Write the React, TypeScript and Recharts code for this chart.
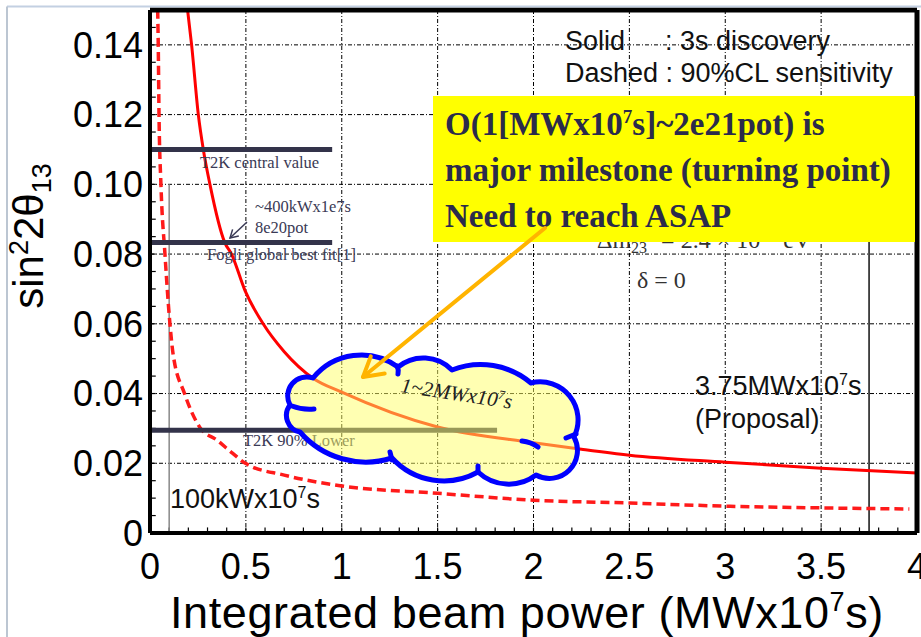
import React from 'react';
import { ComposedChart, Line, XAxis, YAxis, CartesianGrid, ReferenceLine } from 'recharts';

// 3 sigma discovery (solid)
const solidX = [0.196, 0.217, 0.252, 0.278, 0.3125, 0.39, 0.425, 0.495, 0.59, 0.7, 0.85, 1.0, 1.5, 2.0, 2.25, 2.5, 3.0, 3.5, 4.0];
const solidY = [0.15, 0.14, 0.12, 0.11, 0.1, 0.0833, 0.08, 0.0696, 0.06, 0.052, 0.0444, 0.0404, 0.0304, 0.0259, 0.024, 0.0223, 0.0203, 0.0186, 0.0172];

// 90% CL sensitivity (dashed)
const dashedX = [0.04, 0.043, 0.047, 0.057, 0.078, 0.104, 0.12, 0.18, 0.26, 0.35, 0.43, 0.5, 0.7, 1.0, 1.5, 2.0, 2.5, 3.0, 3.5, 3.96];
const dashedY = [0.15, 0.14, 0.12, 0.1, 0.08, 0.06, 0.0515, 0.04, 0.0303, 0.0266, 0.0229, 0.0199, 0.0166, 0.0135, 0.0114, 0.0094, 0.0086, 0.0077, 0.0072, 0.0069];

// reference values
const refNames = ['T2K central value', 'Fogli global best fit[1]', 'T2K 90% Lower'];
const refValues = [0.11, 0.0833, 0.0295];
const refEnds = [0.95, 0.95, 1.81];
const powerMarks = [0.1, 3.75];
const powerMarkTops = [0.1, 0.09];

const xTicks = [0, 0.5, 1, 1.5, 2, 2.5, 3, 3.5, 4];
const yTicks = [0, 0.02, 0.04, 0.06, 0.08, 0.1, 0.12, 0.14];
const xMinor = Array.from({ length: 41 }, (_, i) => +(i * 0.1).toFixed(2));
const yMinor = Array.from({ length: 31 }, (_, i) => +(i * 0.005).toFixed(3));

const SANS = 'Liberation Sans, Arial, sans-serif';
const SERIF = 'Liberation Serif, Times New Roman, serif';

export default function App() {
  const solidData = solidX.map((x, i) => ({ x, y: solidY[i] }));
  const dashedData = dashedX.map((x, i) => ({ x, y: dashedY[i] }));
  const tipX = 363, tipY = 377;
  return (
    <div style={{ position: 'absolute', left: 0, top: 0, width: 921, height: 637, background: '#fff', overflow: 'hidden' }}>
      <ComposedChart width={921} height={637} margin={{ top: 10, right: 4, bottom: 0, left: 0 }}>
        <CartesianGrid stroke="#000" strokeDasharray="4 2 1 2" strokeWidth={1} />
        <XAxis
          type="number"
          dataKey="x"
          domain={[0, 4]}
          ticks={xTicks}
          interval={0}
          allowDataOverflow
          height={104}
          tickLine={false}
          tickSize={0}
          tickMargin={20}
          axisLine={{ stroke: '#000', strokeWidth: 4 }}
          tick={{ fontSize: 36, fontFamily: SANS, fill: '#000' }}
          tickFormatter={(v: number) => String(v)}
        />
        <YAxis
          type="number"
          domain={[0, 0.15]}
          ticks={yTicks}
          interval={0}
          allowDataOverflow
          width={150}
          tickLine={false}
          tickSize={0}
          tickMargin={7}
          axisLine={{ stroke: '#000', strokeWidth: 4 }}
          tick={{ fontSize: 36, fontFamily: SANS, fill: '#000' }}
          tickFormatter={(v: number) => (v === 0 ? '0' : v.toFixed(2))}
        />
        {xMinor.map((v) => (
          <ReferenceLine key={'xm' + v} segment={[{ x: v, y: 0 }, { x: v, y: 0.0016 }]} stroke="#000" strokeWidth={1.2} ifOverflow="visible" />
        ))}
        {yMinor.map((v) => (
          <ReferenceLine key={'ym' + v} segment={[{ x: 0, y: v }, { x: 0.03, y: v }]} stroke="#000" strokeWidth={1.2} ifOverflow="visible" />
        ))}
        {powerMarks.map((v, i) => (
          <ReferenceLine key={'pm' + v} segment={[{ x: v, y: 0 }, { x: v, y: powerMarkTops[i] }]} stroke={i === 0 ? '#888' : '#111'} strokeWidth={1.5} ifOverflow="visible" />
        ))}
        <Line data={dashedData} dataKey="y" type="monotone" stroke="#ff1a1a" strokeWidth={3.5} strokeDasharray="9 5" dot={false} isAnimationActive={false} />
        <Line data={solidData} dataKey="y" type="monotone" stroke="#ff0000" strokeWidth={3} dot={false} isAnimationActive={false} />
        {refValues.map((v, i) => (
          <ReferenceLine key={refNames[i]} segment={[{ x: 0, y: v }, { x: refEnds[i], y: v }]} stroke="#33334a" strokeWidth={5} ifOverflow="visible" />
        ))}
        <ReferenceLine y={0.15} stroke="#000" strokeWidth={5} ifOverflow="visible" />
        <ReferenceLine x={4} stroke="#000" strokeWidth={5} ifOverflow="visible" />
      </ComposedChart>

      <svg width={921} height={637} style={{ position: 'absolute', left: 0, top: 0, pointerEvents: 'none' }}>
        {/* slide border */}
        <line x1={7} y1={6.5} x2={921} y2={6.5} stroke="#c3d0e2" strokeWidth={2} />
        <line x1={7} y1={6.5} x2={7} y2={637} stroke="#bcc6d2" strokeWidth={2} />

        {/* axis titles */}
        <text x={43} y={236} transform="rotate(-90 43 236)" textAnchor="middle" fontFamily={SANS} fontSize={42} fill="#000">
          sin<tspan dy={-15} fontSize={27}>2</tspan><tspan dy={15}>2θ</tspan><tspan dy={8} fontSize={27}>13</tspan>
        </text>
        <text x={170} y={628} fontFamily={SANS} fontSize={45} letterSpacing={0.6} fill="#000">
          Integrated beam power (MWx10<tspan dy={-17} fontSize={27}>7</tspan><tspan dy={17}>s)</tspan>
        </text>

        {/* legend text */}
        <text x={565} y={50} fontFamily={SANS} fontSize={27} fill="#111">Solid</text>
        <text x={665} y={50} fontFamily={SANS} fontSize={27} fill="#111">: 3s discovery</text>
        <text x={565} y={82} fontFamily={SANS} fontSize={27} fill="#111">Dashed : 90%CL sensitivity</text>

        {/* text partly hidden under the yellow box */}
        <text x={597} y={248} fontFamily={SERIF} fontSize={24} fill="#333">
          Δm<tspan dy={5} fontSize={16}>23</tspan><tspan dy={-14} fontSize={16}>2</tspan><tspan dy={9}> = 2.4 × 10</tspan><tspan dy={-9} fontSize={16}>−3</tspan><tspan dy={9}> eV</tspan><tspan dy={-9} fontSize={16}>2</tspan>
        </text>
        <text x={637} y={288} fontFamily={SERIF} fontSize={24} fill="#333">δ = 0</text>

        {/* yellow box */}
        <rect x={433} y={96} width={482} height={146} fill="#ffff00" />
        <g fontFamily={SERIF} fontWeight="bold" fontSize={33} fill="#2b2b4b">
          <text x={445} y={135}>
            O(1[MWx10<tspan dy={-12} fontSize={19}>7</tspan><tspan dy={12}>s]~2e21pot) is</tspan>
          </text>
          <text x={445} y={181}>major milestone (turning point)</text>
          <text x={445} y={227}>Need to reach ASAP</text>
        </g>

        {/* small serif annotations */}
        <g fontFamily={SERIF} fontSize={16.5} fill="#3a3a55">
          <text x={200} y={168}>{refNames[0]}</text>
          <text x={255} y={212}>~400kWx1e7s</text>
          <text x={255} y={233}>8e20pot</text>
          <text x={207} y={260}>{refNames[1]}</text>
          <text x={243} y={446}>{refNames[2]}</text>
        </g>
        <g stroke="#3a3a55" strokeWidth={1.5} fill="none">
          <line x1={247} y1={222} x2={230} y2={238} />
          <polyline points="232.6,229.4 230,238 238.8,235.9" />
        </g>

        {/* sans annotations */}
        <text x={170} y={508} fontFamily={SANS} fontSize={27} fill="#111">
          100kWx10<tspan dy={-10} fontSize={16}>7</tspan><tspan dy={10}>s</tspan>
        </text>
        <text x={695} y={395} fontFamily={SANS} fontSize={27} fill="#111">
          3.75MWx10<tspan dy={-10} fontSize={16}>7</tspan><tspan dy={10}>s</tspan>
        </text>
        <text x={695} y={428} fontFamily={SANS} fontSize={27} fill="#111">(Proposal)</text>

        {/* cloud */}
        <path
          d="M 290 405 A 19 19 0 0 1 313 378 A 62 62 0 0 1 398 367 A 40 40 0 0 1 452 370 A 78 78 0 0 1 531 383 A 38 38 0 0 1 574 437 A 28 28 0 0 1 536 475 A 45 45 0 0 1 478 472 A 70 70 0 0 1 392 458 A 87 87 0 0 1 300 432 A 17 17 0 0 1 290 405 Z"
          fill="#ffff66"
          fillOpacity={0.5}
          stroke="#0000ff"
          strokeWidth={5}
          strokeLinejoin="round"
        />
        <g stroke="#0000ff" strokeWidth={5} fill="none" strokeLinecap="round">
          <path d="M 292 406 Q 302 410 314 409" />
          <path d="M 397 366 Q 399 370 398 374" />
          <path d="M 566 438 L 576 434" />
          <path d="M 522 441 Q 531 442 538 447" />
          <path d="M 390 452 L 392 460" />
          <path d="M 478 466 L 478 472" />
        </g>
        <text x={400} y={392} transform="rotate(8.6 400 392)" fontFamily={SERIF} fontStyle="italic" fontSize={21} fill="#222">
          1~2MWx10<tspan dy={-8} fontSize={13}>7</tspan><tspan dy={8}>s</tspan>
        </text>

        {/* orange arrow */}
        <g stroke="#ffb400" strokeWidth={4} fill="none" strokeLinecap="round" strokeLinejoin="round">
          <line x1={545} y1={228} x2={tipX} y2={tipY} />
          <polyline points={`370.8,356.4 ${tipX},${tipY} 384.7,373.5`} />
        </g>
      </svg>
    </div>
  );
}
